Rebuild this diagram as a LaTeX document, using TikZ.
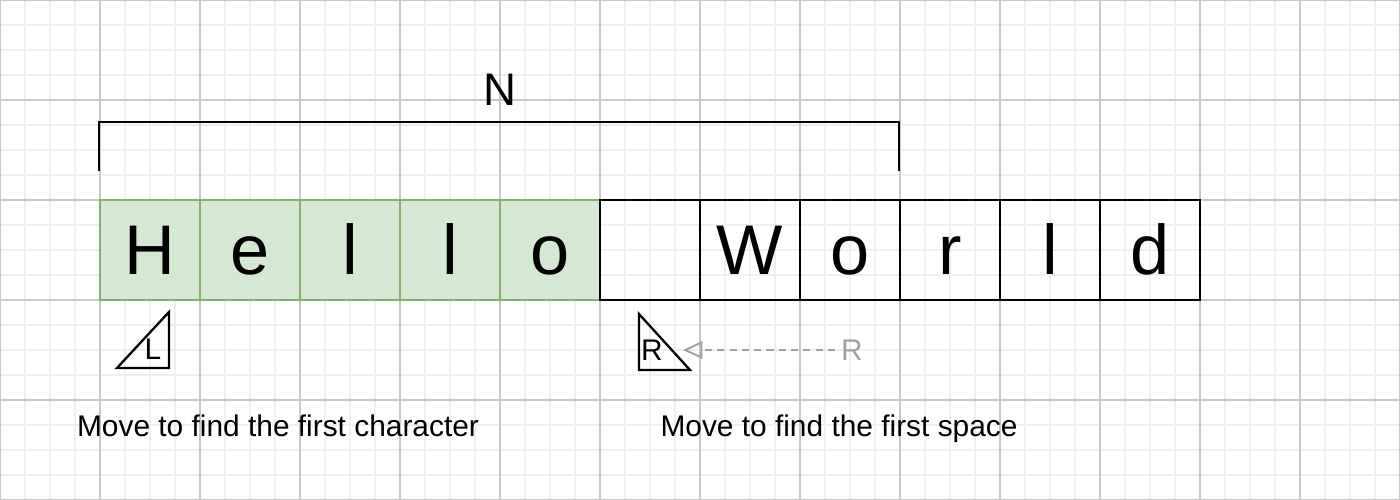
\documentclass[tikz,border=0pt]{standalone}
\usepackage{fontspec}
\setmainfont{Liberation Sans}
\usetikzlibrary{arrows.meta, positioning}
\definecolor{cellgreen}{HTML}{D5E8D4}
\definecolor{cellgreenline}{HTML}{82B366}
\definecolor{hintgray}{HTML}{A0A0A0}
\definecolor{gridminor}{HTML}{EFEFEF}
\definecolor{gridmajor}{HTML}{C8C8C8}

\begin{document}
\begin{tikzpicture}[
    node distance=2cm,
    every node/.style={font=\fontsize{17}{20}\selectfont},
    cell/.style={rectangle, draw, line width=1.2pt, minimum size=2cm, inner sep=0pt, text height=1cm, text depth=0pt, font=\fontsize{40}{48}\selectfont},
    done/.style={cell, fill=cellgreen, draw=cellgreenline},
    pointer/.style={draw, line width=1.3pt, line join=miter},
    hint/.style={->, hintgray, line width=1.1pt, dash pattern=on 4pt off 3pt, >={Triangle[open, length=11pt, width=10pt]}}
]

    % Background grid
    \useasboundingbox (0,0) rectangle (28,10);
    \draw[gridminor, line width=0.6pt, step=0.5] (0,0) grid (28,10);
    \draw[gridmajor, line width=0.6pt, step=2] (0,0) grid (28,10);

    % Characters already scanned (green)
    \node[done] (c1) at (3,5) {H};
    \node[done] (c2) [right of=c1] {e};
    \node[done] (c3) [right of=c2] {l};
    \node[done] (c4) [right of=c3] {l};
    \node[done] (c5) [right of=c4] {o};

    % Remaining characters
    \node[cell] (c6) [right of=c5] {};
    \node[cell] (c7) [right of=c6] {W};
    \node[cell] (c8) [right of=c7] {o};
    \node[cell] (c9) [right of=c8] {r};
    \node[cell] (c10) [right of=c9] {l};
    \node[cell] (c11) [right of=c10] {d};

    % Bracket for N
    \coordinate (bl) at ([yshift=0.56cm]c1.north west);
    \coordinate (br) at ([yshift=0.56cm]c9.north west);
    \draw[line width=1.3pt] (bl) -- ++(0,0.98) -| (br);
    \node[font=\fontsize{26}{30}\selectfont] (N) at (10,8.2) {N};

    % Left pointer
    \node (L) at (3.06,3.02) {L};
    \draw[pointer] (2.34,2.64) -- (3.38,3.76) -- (3.38,2.64) -- cycle;

    % Right pointer and where it came from
    \node (R) at (13.04,3.0) {R};
    \draw[pointer] (12.78,3.72) -- (12.78,2.6) -- (13.8,2.6) -- cycle;
    \node[hintgray] (Rold) at (17.04,3.0) {R};
    \coordinate (Rtip) at (13.66,3.0);
    \draw[hint] (Rold) -- (Rtip);

    % Captions
    \node[anchor=base] (txtL) at (5.56,1.26) {Move to find the first character};
    \node[anchor=base] (txtR) at (16.78,1.26) {Move to find the first space};

\end{tikzpicture}
\end{document}
